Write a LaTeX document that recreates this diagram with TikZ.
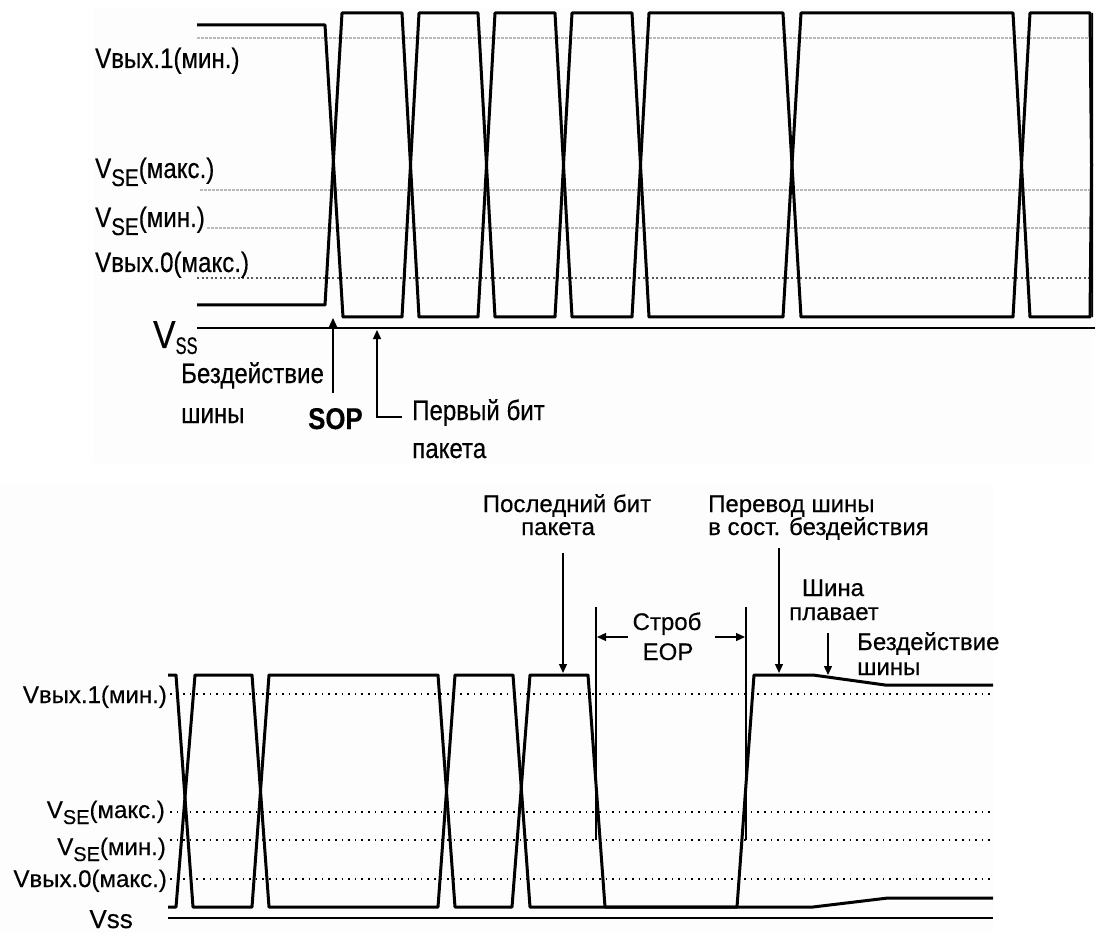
\documentclass[tikz,border=0pt]{standalone}
\usepackage{fontspec}
\setmainfont{Liberation Sans}[FakeBold=0.4]
\newfontfamily\topfont{Liberation Sans}[FakeStretch=0.86,FakeBold=0.4]
\usetikzlibrary{arrows.meta}
\definecolor{panelbg}{RGB}{252,253,252}
\newcommand\VseLbl[2]{V\raisebox{-#2}{\fontsize{#1}{#1}\selectfont SE}}
\tikzset{
 wave/.style={line width=3pt, line join=round},
 gline/.style={gray!55, line width=1.3pt, dash pattern=on 2.5pt off 1.5pt},
 gdark/.style={black!65, line width=1.3pt, dash pattern=on 2pt off 2.5pt},
 bline/.style={black, line width=1.8pt, dash pattern=on 1.6pt off 5pt},
 vssline/.style={line width=1.6pt},
 marker/.style={line width=1.3pt},
 ptr/.style={line width=1.3pt, -{Triangle[length=9pt,width=8pt]}},
 lbl/.style={inner sep=0pt, anchor=base west, font=\topfont\fontsize{28}{28}\selectfont},
 lblr/.style={inner sep=0pt, anchor=base east, font=\fontsize{24}{24}\selectfont},
 ann/.style={inner sep=0pt, font=\fontsize{24}{24}\selectfont},
}
\begin{document}
\begin{tikzpicture}[x=1pt,y=-1pt]
\useasboundingbox (0,0) rectangle (1095,933);
\fill[white] (0,0) rectangle (1095,933);
\fill[panelbg] (93,7) rectangle (1092,463);
\fill[panelbg] (0,485) rectangle (993,933);

% ---------- top panel ----------
\draw[gline] (197,38) -- (1092,38);
\draw[gline] (200,190) -- (1092,190);
\draw[gline] (207,228) -- (1092,228);
\draw[gdark] (197,278) -- (1092,278);
\draw[vssline] (197,328) -- (1095,328);

\begin{scope}
\clip (0,0) rectangle (1093,340);
\draw[wave] (197,25) -- (325,25) -- (343,317) -- (402,317) -- (419,13) -- (478,13) -- (495,317) -- (555,317) -- (572,13) -- (632,13) -- (649,317) -- (783,317) -- (801,13) -- (1013,13) -- (1030,317) -- (1090,317) -- (1093,13);
\draw[wave] (197,305) -- (325,305) -- (342,13) -- (402,13) -- (419,317) -- (478,317) -- (495,13) -- (555,13) -- (572,317) -- (632,317) -- (649,13) -- (783,13) -- (801,317) -- (1013,317) -- (1030,13) -- (1090,13) -- (1093,317);
\end{scope}

\node[lbl] (t1) at (95,68) {Vвых.1(мин.)};
\node[lbl] (t2) at (95,178) {\VseLbl{24}{8pt}(макс.)};
\node[lbl] (t3) at (95,227) {\VseLbl{24}{8pt}(мин.)};
\node[lbl] (t4) at (95,272) {Vвых.0(макс.)};
\node[inner sep=0pt, anchor=base west, font=\topfont] (tvss) at (153,348) {\fontsize{39}{39}\selectfont V\raisebox{-6pt}{\fontsize{24}{24}\selectfont\scalebox{0.8}[1]{SS}}};
\node[lbl] (idle1) at (181,383) {Бездействие};
\node[lbl] (idle2) at (181,423) {шины};
\node[lbl, font=\topfont\fontsize{30}{30}\selectfont\bfseries] (sop) at (308,429) {SOP};
\node[lbl] (fb1) at (412,420) {Первый бит};
\node[lbl] (fb2) at (412,458) {пакета};

\coordinate (sopS) at (333,393);
\coordinate (sopT) at (333,318);
\draw[ptr] (sopS) -- (sopT);
\coordinate (fbS) at (402,417);
\coordinate (fbT) at (377,330);
\draw[ptr] (fbS) -| (fbT);

% ---------- bottom panel ----------
\draw[bline] (170,694) -- (993,694);
\draw[bline] (170,812) -- (993,812);
\draw[bline] (170,840) -- (993,840);
\draw[bline] (170,879) -- (993,879);
\draw[vssline] (168,918) -- (993,918);

\draw[wave] (168,675) -- (176,675) -- (193,907) -- (252,907) -- (269,675) -- (438,675) -- (455,907) -- (512,907) -- (530,675) -- (588,675) -- (605,907) -- (737,907) -- (754,675) -- (813,675) -- (885,685) -- (993,685);
\draw[wave] (168,907) -- (176,907) -- (195,675) -- (252,675) -- (269,907) -- (438,907) -- (455,675) -- (513,675) -- (530,907) -- (813,907) -- (888,898) -- (993,898);

\coordinate (eopLtop) at (596,607);
\coordinate (eopLbot) at (596,840);
\coordinate (eopRtop) at (746,607);
\coordinate (eopRbot) at (746,840);
\draw[marker] (eopLtop) -- (eopLbot);
\draw[marker] (eopRtop) -- (eopRbot);

\node[lblr] (b1) at (167,703) {Vвых.1(мин.)};
\node[lblr] (b2) at (165,818) {\VseLbl{20}{6pt}(макс.)};
\node[lblr] (b3) at (166,855) {\VseLbl{20}{6pt}(мин.)};
\node[lblr] (b4) at (167,887) {Vвых.0(макс.)};
\node[lblr, font=\fontsize{26}{26}\selectfont] (b5) at (133,928) {Vss};

\node[ann, anchor=base] (lb1) at (567,512) {Последний бит};
\node[ann, anchor=base] (lb2) at (558,535) {пакета};
\node[ann, anchor=base west] (tr1) at (708,512) {Перевод шины};
\node[ann, anchor=base west] (tr2) at (708,535) {в сост. бездействия};
\node[ann, anchor=base] (fl1) at (833,596) {Шина};
\node[ann, anchor=base] (fl2) at (834,620) {плавает};
\node[ann, anchor=base west] (id1) at (857,650) {Бездействие};
\node[ann, anchor=base west] (id2) at (857,675) {шины};
\node[ann, anchor=base] (st1) at (667,630) {Строб};
\node[ann, anchor=base] (st2) at (668,660) {EOP};

\coordinate (lbS) at (563,553);
\coordinate (lbT) at (563,673);
\draw[ptr] (lbS) -- (lbT);
\coordinate (trS) at (779,548);
\coordinate (trT) at (779,673);
\draw[ptr] (trS) -- (trT);
\coordinate (flS) at (828,633);
\coordinate (flT) at (828,675);
\draw[ptr] (flS) -- (flT);
\coordinate (stLS) at (628,637);
\coordinate (stLT) at (597,637);
\draw[ptr] (stLS) -- (stLT);
\coordinate (stRS) at (715,637);
\coordinate (stRT) at (745,637);
\draw[ptr] (stRS) -- (stRT);
\end{tikzpicture}
\end{document}
